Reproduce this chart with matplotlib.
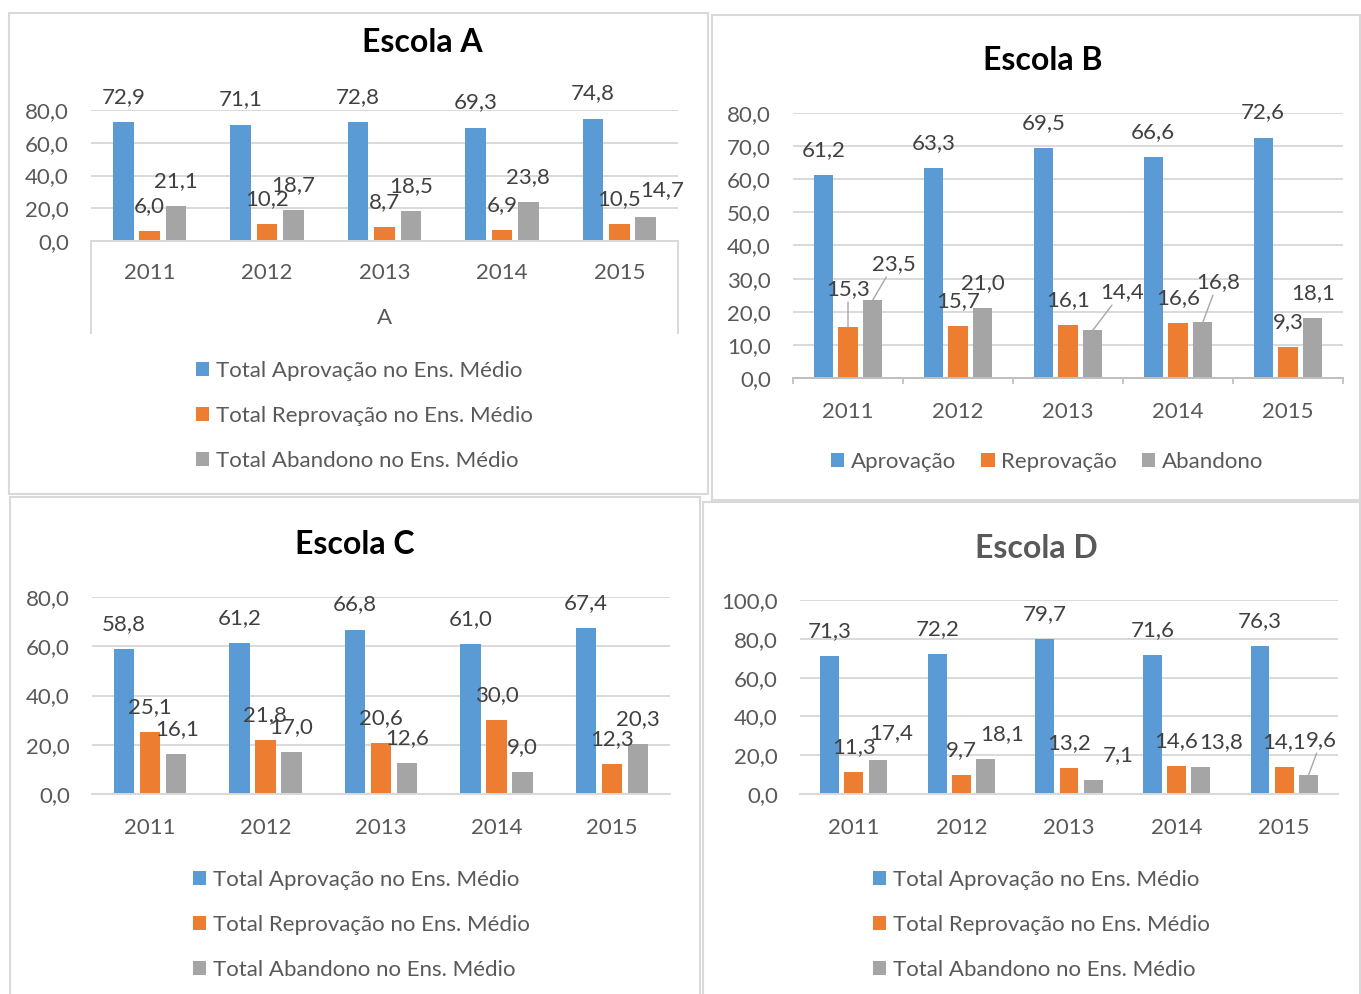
import matplotlib
matplotlib.use("Agg")
import matplotlib.pyplot as plt
from matplotlib.patches import Rectangle, Patch
from matplotlib.lines import Line2D
from matplotlib.ticker import FuncFormatter, FixedLocator

plt.rcParams['font.family'] = ['Lato', 'DejaVu Sans']

W, H = 1361, 994

years = ['2011', '2012', '2013', '2014', '2015']

a_aprov = [72.9, 71.1, 72.8, 69.3, 74.8]
a_reprov = [6.0, 10.2, 8.7, 6.9, 10.5]
a_aband = [21.1, 18.7, 18.5, 23.8, 14.7]

b_aprov = [61.2, 63.3, 69.5, 66.6, 72.6]
b_reprov = [15.3, 15.7, 16.1, 16.6, 9.3]
b_aband = [23.5, 21.0, 14.4, 16.8, 18.1]

c_aprov = [58.8, 61.2, 66.8, 61.0, 67.4]
c_reprov = [25.1, 21.8, 20.6, 30.0, 12.3]
c_aband = [16.1, 17.0, 12.6, 9.0, 20.3]

d_aprov = [71.3, 72.2, 79.7, 71.6, 76.3]
d_reprov = [11.3, 9.7, 13.2, 14.6, 14.1]
d_aband = [17.4, 18.1, 7.1, 13.8, 9.6]

long_labels = ['Total Aprovação no Ens. Médio',
               'Total Reprovação no Ens. Médio',
               'Total Abandono no Ens. Médio']
short_labels = ['Aprovação', 'Reprovação', 'Abandono']

COLORS = ['#5B9BD5', '#ED7D31', '#A5A5A5']
GRID = '#D9D9D9'
AXIS = '#BFBFBF'
TXT = '#595959'
LBL = '#404040'
FS = 16
TITLE_FS = 23

fig = plt.figure(figsize=(W / 100, H / 100), dpi=100)
fig.patch.set_facecolor('white')


def fx(x):
    return x / W


def fy(y):
    return 1 - y / H


def frame(x0, y0, x1, y1):
    fig.add_artist(Rectangle((fx(x0), fy(y1)), fx(x1) - fx(x0), fy(y0) - fy(y1),
                             transform=fig.transFigure, fill=False,
                             ec=GRID, lw=1.5))


def comma(v, _pos=None):
    return f"{v:.1f}".replace('.', ',')


def panel(left, right, bottom_px, top_px, ymax, ystep, series, label_moves,
          leaders, year_pad=17):
    ax = fig.add_axes([fx(left), fy(bottom_px), fx(right) - fx(left),
                       fy(top_px) - fy(bottom_px)])
    ax.set_xlim(-0.5, 4.5)
    ax.set_ylim(0, ymax)
    ax.set_facecolor('none')
    spacing, width = 0.225, 0.175
    for s, vals in enumerate(series):
        xs = [i + (s - 1) * spacing for i in range(len(vals))]
        ax.bar(xs, vals, width=width, color=COLORS[s], zorder=2)
        for i, (x, v) in enumerate(zip(xs, vals)):
            dx, dy = label_moves.get((s, i), (0, 25))
            kw = {}
            if (s, i) in leaders:
                kw['arrowprops'] = dict(arrowstyle='-', color='#A6A6A6', lw=1,
                                        shrinkA=0, shrinkB=0)
            ax.annotate(comma(v), xy=(x, v), xytext=(dx, dy),
                        textcoords='offset pixels', ha='center', va='center',
                        fontsize=FS, color=LBL, annotation_clip=False, **kw)
    ax.set_yticks([ystep * k for k in range(int(ymax / ystep) + 1)])
    ax.yaxis.set_major_formatter(FuncFormatter(comma))
    ax.set_xticks(range(5))
    ax.set_xticklabels(years)
    ax.tick_params(axis='y', length=0, pad=16, labelsize=FS, labelcolor=TXT)
    ax.tick_params(axis='x', length=0, pad=year_pad, labelsize=FS, labelcolor=TXT)
    ax.yaxis.grid(True, color=GRID, lw=1.4, zorder=0)
    ax.set_axisbelow(True)
    for side in ['left', 'right', 'top']:
        ax.spines[side].set_visible(False)
    ax.spines['bottom'].set_color(GRID)
    ax.spines['bottom'].set_linewidth(1.4)
    return ax


# Escola A
frame(9, 13, 708, 494)
axA = panel(91, 678, 241, 110, 80, 20, [a_aprov, a_reprov, a_aband],
            {(2, 4): (16, 27)}, set(), year_pad=16)
for xp in (91, 678):
    fig.add_artist(Line2D([fx(xp), fx(xp)], [fy(241), fy(333)],
                          transform=fig.transFigure, color=GRID, lw=1.4))
fig.text(fx(384.5), fy(318), 'A', ha='center', va='center', fontsize=FS, color=TXT)
fig.text(fx(422), fy(42), 'Escola A', ha='center', va='center', fontsize=TITLE_FS,
         fontweight='bold', color='black')

# Escola B
frame(712, 15, 1360, 500)
b_moves = {(1, 0): (0, 38), (2, 0): (21, 36), (2, 2): (29, 38), (2, 3): (15, 40)}
axB = panel(793, 1343, 378, 113, 80, 10, [b_aprov, b_reprov, b_aband],
            b_moves, {(1, 0), (2, 0), (2, 2), (2, 3)})
axB.spines['bottom'].set_color(AXIS)
axB.xaxis.set_minor_locator(FixedLocator([-0.5, 0.5, 1.5, 2.5, 3.5, 4.5]))
axB.tick_params(axis='x', which='minor', length=4.5, width=1.2, color=AXIS)
fig.text(fx(1043), fy(61), 'Escola B', ha='center', va='center', fontsize=TITLE_FS,
         fontweight='bold', color='black')

# Escola C
frame(10, 497, 700, 1000)
axC = panel(92, 670, 794, 597, 80, 20, [c_aprov, c_reprov, c_aband],
            {(2, 0): (1, 25)}, set())
fig.text(fx(355), fy(544), 'Escola C', ha='center', va='center', fontsize=TITLE_FS,
         fontweight='bold', color='black')

# Escola D
frame(703, 502, 1360, 1000)
d_moves = {(2, 0): (13, 27), (2, 1): (17, 25), (2, 2): (25, 25),
           (2, 3): (20, 25), (2, 4): (13, 35)}
axD = panel(800, 1338, 794, 600, 100, 20, [d_aprov, d_reprov, d_aband],
            d_moves, {(2, 4)})
fig.text(fx(1036), fy(548), 'Escola D', ha='center', va='center', fontsize=TITLE_FS,
         fontweight='bold', color=TXT)

handles = [Patch(facecolor=c, edgecolor='none') for c in COLORS]
legend_kw = dict(frameon=False, fontsize=FS, labelcolor=TXT, borderpad=0,
                 borderaxespad=0, handlelength=0.6, handleheight=0.6,
                 handletextpad=0.28, bbox_transform=fig.transFigure)

fig.legend(handles, long_labels, loc='center left',
           bbox_to_anchor=(fx(196), fy(416)), labelspacing=1.12, **legend_kw)
fig.legend(handles, long_labels, loc='center left',
           bbox_to_anchor=(fx(193), fy(925)), labelspacing=1.12, **legend_kw)
fig.legend(handles, long_labels, loc='center left',
           bbox_to_anchor=(fx(873), fy(925)), labelspacing=1.12, **legend_kw)
fig.legend(handles, short_labels, loc='center',
           bbox_to_anchor=(fx(1047), fy(462)), ncol=3, columnspacing=1.15,
           **legend_kw)

fig.savefig('out.png', dpi=100, facecolor='white')
